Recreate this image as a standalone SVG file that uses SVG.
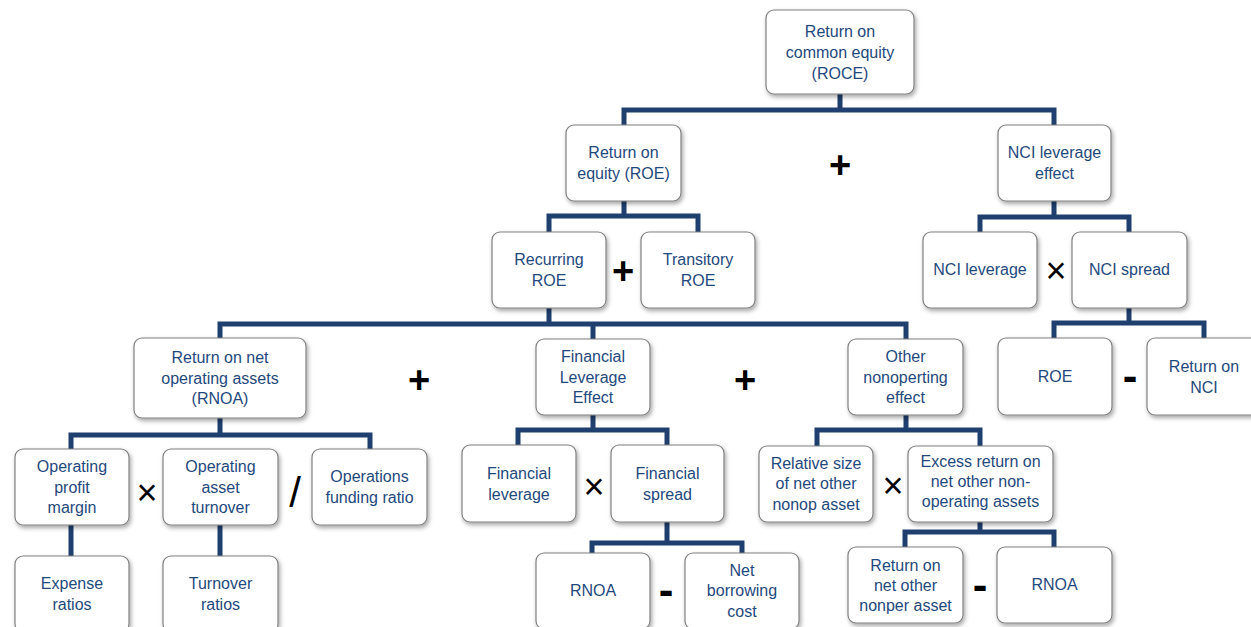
<svg xmlns="http://www.w3.org/2000/svg" width="1251" height="627" viewBox="0 0 1251 627">
<defs>
<filter id="sh" x="-20%" y="-20%" width="140%" height="150%">
<feDropShadow dx="1.5" dy="2.5" stdDeviation="2" flood-color="#000" flood-opacity="0.35"/>
</filter>
<style>
.box{fill:#fff;stroke:#808080;stroke-width:1.2;filter:url(#sh)}
.t{font-family:"Liberation Sans",Arial,sans-serif;font-size:16px;fill:#1f497d;text-anchor:middle}
.c{fill:none;stroke:#1f3f6e;stroke-width:5}
.op{font-family:"Liberation Sans",Arial,sans-serif;fill:#000;text-anchor:middle}
.plus{font-size:38px;font-weight:bold}
.times{font-size:36px}
.minus{font-size:44px;font-weight:bold}
.slash{font-size:42px}
</style>
</defs>
<rect width="1251" height="627" fill="#fff"/>
<g id="connectors">
<path class="c" d="M840,94V110M624,125V110H1054V125"/>
<path class="c" d="M624,201V216M549,232V216H698V232"/>
<path class="c" d="M1054,201V217M980,232V217H1129V232"/>
<path class="c" d="M549,308V324M220,338V324H906V339M593,324V339"/>
<path class="c" d="M1129,308V323M1054,338V323H1204V338"/>
<path class="c" d="M220,418V435M71,449V435H370V449"/>
<path class="c" d="M593,415V430M518,445V430H667V445"/>
<path class="c" d="M906,415V430M817,446V430H980V446"/>
<path class="c" d="M71,525V556M220,525V556"/>
<path class="c" d="M667,522V543M592,553V543H742V553"/>
<path class="c" d="M980,522V532M905,547V532H1054V547"/>
</g>
<g id="roce"><rect class="box" x="766" y="10" width="148" height="84" rx="8"/><text class="t"><tspan x="840" y="36.5">Return on</tspan><tspan x="840" y="57.5">common equity</tspan><tspan x="840" y="78.5">(ROCE)</tspan></text></g>
<g id="roe"><rect class="box" x="566" y="125" width="115" height="76" rx="8"/><text class="t"><tspan x="623.5" y="157.5">Return on</tspan><tspan x="623.5" y="178.5">equity (ROE)</tspan></text></g>
<g id="nci-effect"><rect class="box" x="998" y="125" width="113" height="76" rx="8"/><text class="t"><tspan x="1054.5" y="157.5">NCI leverage</tspan><tspan x="1054.5" y="178.5">effect</tspan></text></g>
<g id="recurring"><rect class="box" x="492" y="232" width="114" height="76" rx="8"/><text class="t"><tspan x="549" y="264.5">Recurring</tspan><tspan x="549" y="285.5">ROE</tspan></text></g>
<g id="transitory"><rect class="box" x="641" y="232" width="114" height="76" rx="8"/><text class="t"><tspan x="698" y="264.5">Transitory</tspan><tspan x="698" y="285.5">ROE</tspan></text></g>
<g id="nci-leverage"><rect class="box" x="923" y="232" width="114" height="76" rx="8"/><text class="t" x="980" y="274.5">NCI leverage</text></g>
<g id="nci-spread"><rect class="box" x="1072" y="232" width="115" height="76" rx="8"/><text class="t" x="1129.5" y="274.5">NCI spread</text></g>
<g id="rnoa"><rect class="box" x="134" y="338" width="172" height="80" rx="8"/><text class="t"><tspan x="220" y="362.5">Return on net</tspan><tspan x="220" y="383.5">operating assets</tspan><tspan x="220" y="403.5">(RNOA)</tspan></text></g>
<g id="fle"><rect class="box" x="536" y="339" width="114" height="76" rx="8"/><text class="t"><tspan x="593" y="361.5">Financial</tspan><tspan x="593" y="382.5">Leverage</tspan><tspan x="593" y="402.5">Effect</tspan></text></g>
<g id="other"><rect class="box" x="848" y="339" width="115" height="76" rx="8"/><text class="t"><tspan x="905.5" y="361.5">Other</tspan><tspan x="905.5" y="382.5">nonoperting</tspan><tspan x="905.5" y="402.5">effect</tspan></text></g>
<g id="roe-right"><rect class="box" x="998" y="338" width="114" height="77" rx="8"/><text class="t" x="1055" y="381.5">ROE</text></g>
<g id="return-nci"><rect class="box" x="1147" y="338" width="114" height="77" rx="8"/><text class="t"><tspan x="1204" y="371.5">Return on</tspan><tspan x="1204" y="392.5">NCI</tspan></text></g>
<g id="opm"><rect class="box" x="15" y="449" width="114" height="76" rx="8"/><text class="t"><tspan x="72" y="471.5">Operating</tspan><tspan x="72" y="492.5">profit</tspan><tspan x="72" y="512.5">margin</tspan></text></g>
<g id="oat"><rect class="box" x="163" y="449" width="115" height="76" rx="8"/><text class="t"><tspan x="220.5" y="471.5">Operating</tspan><tspan x="220.5" y="492.5">asset</tspan><tspan x="220.5" y="512.5">turnover</tspan></text></g>
<g id="ofr"><rect class="box" x="312" y="449" width="115" height="76" rx="8"/><text class="t"><tspan x="369.5" y="481.5">Operations</tspan><tspan x="369.5" y="502.5">funding ratio</tspan></text></g>
<g id="finlev"><rect class="box" x="462" y="445" width="114" height="77" rx="8"/><text class="t"><tspan x="519" y="478.5">Financial</tspan><tspan x="519" y="499.5">leverage</tspan></text></g>
<g id="finspread"><rect class="box" x="611" y="445" width="113" height="77" rx="8"/><text class="t"><tspan x="667.5" y="478.5">Financial</tspan><tspan x="667.5" y="499.5">spread</tspan></text></g>
<g id="relsize"><rect class="box" x="759" y="446" width="114" height="76" rx="8"/><text class="t"><tspan x="816" y="468.5">Relative size</tspan><tspan x="816" y="488.5">of net other</tspan><tspan x="816" y="509.5">nonop asset</tspan></text></g>
<g id="excess"><rect class="box" x="908" y="446" width="145" height="76" rx="8"/><text class="t"><tspan x="980.5" y="466.5">Excess return on</tspan><tspan x="980.5" y="486.5">net other non-</tspan><tspan x="980.5" y="506.5">operating assets</tspan></text></g>
<g id="expense"><rect class="box" x="15" y="556" width="114" height="76" rx="8"/><text class="t"><tspan x="72" y="588.5">Expense</tspan><tspan x="72" y="609.5">ratios</tspan></text></g>
<g id="turnover"><rect class="box" x="163" y="556" width="115" height="76" rx="8"/><text class="t"><tspan x="220.5" y="588.5">Turnover</tspan><tspan x="220.5" y="609.5">ratios</tspan></text></g>
<g id="rnoa-b"><rect class="box" x="536" y="553" width="114" height="76" rx="8"/><text class="t" x="593" y="595.5">RNOA</text></g>
<g id="nbc"><rect class="box" x="685" y="553" width="114" height="76" rx="8"/><text class="t"><tspan x="742" y="575.5">Net</tspan><tspan x="742" y="595.5">borrowing</tspan><tspan x="742" y="616.5">cost</tspan></text></g>
<g id="ronoa"><rect class="box" x="848" y="547" width="115" height="76" rx="8"/><text class="t"><tspan x="905.5" y="570.5">Return on</tspan><tspan x="905.5" y="590.5">net other</tspan><tspan x="905.5" y="610.5">nonper asset</tspan></text></g>
<g id="rnoa-c"><rect class="box" x="997" y="547" width="115" height="76" rx="8"/><text class="t" x="1054.5" y="589.5">RNOA</text></g>
<g id="operators">
<text class="op plus" x="840" y="178">+</text>
<text class="op plus" x="623" y="284">+</text>
<text class="op plus" x="419" y="393">+</text>
<text class="op plus" x="745" y="393">+</text>
<text class="op times" x="1056" y="283">×</text>
<text class="op times" x="147" y="505">×</text>
<text class="op times" x="594" y="499">×</text>
<text class="op times" x="893" y="498">×</text>
<text class="op slash" x="295" y="507">/</text>
<text class="op minus" x="1130" y="391">-</text>
<text class="op minus" x="666" y="605">-</text>
<text class="op minus" x="980" y="600">-</text>
</g>
</svg>
